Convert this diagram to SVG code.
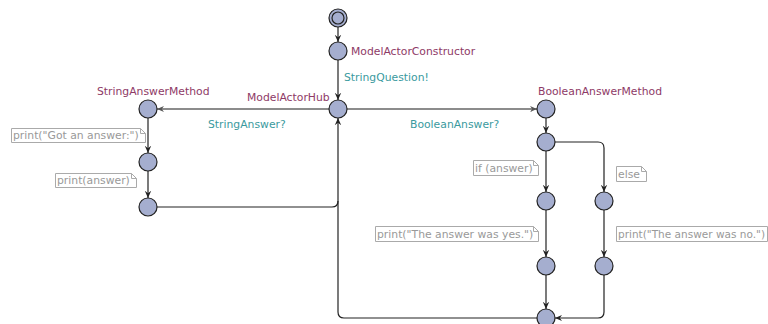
<svg xmlns="http://www.w3.org/2000/svg" width="768" height="324" viewBox="0 0 768 324">
<defs>
<marker id="arr" viewBox="0 0 10 10" refX="9" refY="5" markerWidth="8" markerHeight="8" markerUnits="userSpaceOnUse" orient="auto">
<path d="M0,1 L9,5 L0,9 L3,5 z" fill="#222"/>
</marker>
<marker id="arrg" viewBox="0 0 10 10" refX="9" refY="5" markerWidth="8" markerHeight="8" markerUnits="userSpaceOnUse" orient="auto">
<path d="M0,1 L9,5 L0,9 L3,5 z" fill="#555"/>
</marker>
</defs>
<style>
.n{fill:#a5aecf;stroke:#222;stroke-width:1.2}
.e{fill:none;stroke:#222;stroke-width:1.2;marker-end:url(#arr)}
.eg{fill:none;stroke:#666;stroke-width:1.4;marker-end:url(#arrg)}
.ln{fill:none;stroke:#222;stroke-width:1.2}
text{font-family:"DejaVu Sans",sans-serif;font-size:10.8px}
.nm{fill:#8e3a66}
.ch{fill:#3a9a9e}
.nt{fill:#999}
.nb{fill:#fff;stroke:#aaa;stroke-width:1}
</style>
<rect width="768" height="324" fill="#fff"/>
<g id="connectors">
<path class="e" d="M338,27 L338,42"/>
<path class="e" d="M338,60 L338,100"/>
<path class="eg" d="M329,109 L157,109"/>
<path class="eg" d="M347,109 L537,109"/>
<path class="e" d="M148,118 L148,153"/>
<path class="e" d="M148,171 L148,198"/>
<path class="ln" d="M157,207 L332,207 Q338,207 338,201"/>
<path class="e" d="M338,312 L338,118"/>
<path class="ln" d="M537,318 L344,318 Q338,318 338,312"/>
<path class="e" d="M546,118 L546,133"/>
<path class="e" d="M546,151 L546,192"/>
<path class="e" d="M555,142 L598,142 Q604,142 604,148 L604,192"/>
<path class="e" d="M546,210 L546,257"/>
<path class="e" d="M604,210 L604,257"/>
<path class="e" d="M546,275 L546,309"/>
<path class="e" d="M604,275 L604,312 Q604,318 598,318 L555,318"/>
</g>
<g id="init"><circle class="n" cx="338" cy="18" r="9"/><circle class="n" cx="338" cy="18" r="6"/></g>
<g id="ModelActorConstructor"><circle class="n" cx="338" cy="51" r="9"/><text class="nm" x="351" y="55">ModelActorConstructor</text></g>
<g id="label-StringQuestion"><text class="ch" x="344" y="81">StringQuestion!</text></g>
<g id="ModelActorHub"><circle class="n" cx="338" cy="109" r="9"/><text class="nm" x="247" y="101">ModelActorHub</text></g>
<g id="label-StringAnswer"><text class="ch" x="208" y="128">StringAnswer?</text></g>
<g id="label-BooleanAnswer"><text class="ch" x="410" y="128">BooleanAnswer?</text></g>
<g id="StringAnswerMethod"><circle class="n" cx="148" cy="109" r="9"/><text class="nm" x="97" y="95">StringAnswerMethod</text></g>
<g id="s2"><circle class="n" cx="148" cy="162" r="9"/></g>
<g id="s3"><circle class="n" cx="148" cy="207" r="9"/></g>
<g id="note1"><path class="nb" d="M11.5,128.5 L140.5,128.5 L145.5,133.5 L145.5,142.5 L11.5,142.5 Z M140.5,128.5 L140.5,133.5 L145.5,133.5"/><text class="nt" x="13" y="139">print("Got an answer:")</text></g>
<g id="note2"><path class="nb" d="M55.5,173.5 L131.5,173.5 L136.5,178.5 L136.5,187.5 L55.5,187.5 Z M131.5,173.5 L131.5,178.5 L136.5,178.5"/><text class="nt" x="57" y="184">print(answer)</text></g>
<g id="BooleanAnswerMethod"><circle class="n" cx="546" cy="109" r="9"/><text class="nm" x="538" y="95">BooleanAnswerMethod</text></g>
<g id="b2"><circle class="n" cx="546" cy="142" r="9"/></g>
<g id="b3"><circle class="n" cx="546" cy="201" r="9"/></g>
<g id="b4"><circle class="n" cx="604" cy="201" r="9"/></g>
<g id="b5"><circle class="n" cx="546" cy="266" r="9"/></g>
<g id="b6"><circle class="n" cx="604" cy="266" r="9"/></g>
<g id="b7"><circle class="n" cx="546" cy="318" r="9"/></g>
<g id="note3"><path class="nb" d="M473.5,160.5 L533.5,160.5 L538.5,165.5 L538.5,175.5 L473.5,175.5 Z M533.5,160.5 L533.5,165.5 L538.5,165.5"/><text class="nt" x="475" y="172">if (answer)</text></g>
<g id="note4"><path class="nb" d="M616.5,166.5 L641.5,166.5 L646.5,171.5 L646.5,181.5 L616.5,181.5 Z M641.5,166.5 L641.5,171.5 L646.5,171.5"/><text class="nt" x="618" y="178">else</text></g>
<g id="note5"><path class="nb" d="M375.5,226.5 L533.5,226.5 L538.5,231.5 L538.5,241.5 L375.5,241.5 Z M533.5,226.5 L533.5,231.5 L538.5,231.5"/><text class="nt" x="377" y="238">print("The answer was yes.")</text></g>
<g id="note6"><path class="nb" d="M616.5,226.5 L767.5,226.5 L767.5,241.5 L616.5,241.5 Z"/><text class="nt" x="618" y="238" textLength="147" lengthAdjust="spacingAndGlyphs">print("The answer was no.")</text></g>
</svg>
